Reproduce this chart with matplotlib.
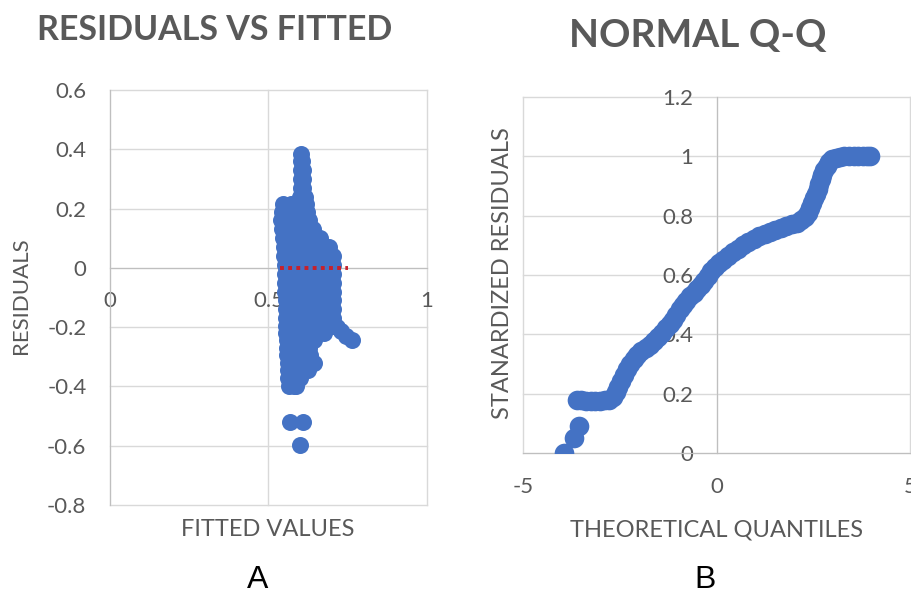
import matplotlib
matplotlib.use("Agg")
import matplotlib.pyplot as plt

plt.rcParams['font.family'] = ['Lato', 'DejaVu Sans']
plt.rcParams['axes.unicode_minus'] = False

# residuals vs fitted
fitted_values = [
    0.603,
    0.602, 0.607,
    0.601, 0.608,
    0.601, 0.608,
    0.601, 0.610,
    0.600, 0.614,
    0.545, 0.570, 0.595, 0.617,
    0.543, 0.568, 0.593, 0.620,
    0.540, 0.565, 0.590, 0.615, 0.627,
    0.542, 0.567, 0.592, 0.617, 0.640,
    0.545, 0.570, 0.595, 0.620, 0.645, 0.664,
    0.548, 0.573, 0.598, 0.623, 0.648, 0.673, 0.690,
    0.550, 0.575, 0.600, 0.625, 0.650, 0.675, 0.702,
    0.551, 0.576, 0.601, 0.626, 0.651, 0.676, 0.704,
    0.552, 0.577, 0.602, 0.627, 0.652, 0.677, 0.705,
    0.553, 0.578, 0.603, 0.628, 0.653, 0.678, 0.705,
    0.553, 0.578, 0.603, 0.628, 0.653, 0.678, 0.705,
    0.554, 0.579, 0.604, 0.629, 0.654, 0.679, 0.705,
    0.554, 0.579, 0.604, 0.629, 0.654, 0.679, 0.705,
    0.555, 0.580, 0.605, 0.630, 0.655, 0.680, 0.705,
    0.555, 0.580, 0.605, 0.630, 0.655, 0.680, 0.705, 0.715,
    0.556, 0.581, 0.606, 0.631, 0.656, 0.675, 0.730,
    0.557, 0.582, 0.607, 0.630, 0.645, 0.746,
    0.558, 0.583, 0.608, 0.628, 0.762,
    0.559, 0.584, 0.609, 0.632,
    0.560, 0.585, 0.610, 0.635, 0.643,
    0.561, 0.586, 0.608, 0.625,
    0.562, 0.585, 0.598,
    0.565, 0.580, 0.588,
    0.568, 0.608, 0.599,
]
residuals = [
    0.385,
    0.360, 0.360,
    0.330, 0.330,
    0.300, 0.300,
    0.270, 0.270,
    0.240, 0.240,
    0.215, 0.215, 0.215, 0.215,
    0.190, 0.190, 0.190, 0.190,
    0.160, 0.160, 0.160, 0.160, 0.160,
    0.130, 0.130, 0.130, 0.130, 0.130,
    0.100, 0.100, 0.100, 0.100, 0.100, 0.100,
    0.070, 0.070, 0.070, 0.070, 0.070, 0.070, 0.070,
    0.040, 0.040, 0.040, 0.040, 0.040, 0.040, 0.040,
    0.010, 0.010, 0.010, 0.010, 0.010, 0.010, 0.010,
    -0.020, -0.020, -0.020, -0.020, -0.020, -0.020, -0.020,
    -0.050, -0.050, -0.050, -0.050, -0.050, -0.050, -0.050,
    -0.080, -0.080, -0.080, -0.080, -0.080, -0.080, -0.080,
    -0.110, -0.110, -0.110, -0.110, -0.110, -0.110, -0.110,
    -0.140, -0.140, -0.140, -0.140, -0.140, -0.140, -0.140,
    -0.170, -0.170, -0.170, -0.170, -0.170, -0.170, -0.170,
    -0.195, -0.195, -0.195, -0.195, -0.195, -0.195, -0.195, -0.198,
    -0.220, -0.220, -0.220, -0.220, -0.220, -0.220, -0.213,
    -0.245, -0.245, -0.245, -0.245, -0.245, -0.229,
    -0.270, -0.270, -0.270, -0.270, -0.245,
    -0.295, -0.295, -0.295, -0.295,
    -0.320, -0.320, -0.320, -0.320, -0.322,
    -0.345, -0.345, -0.345, -0.345,
    -0.370, -0.370, -0.370,
    -0.398, -0.398, -0.398,
    -0.520, -0.520, -0.598,
]
zero_x = [0.537, 0.752]
zero_y = [0, 0]

# normal q-q
theo_q = [-3.96, -3.70, -3.55, -3.62, -3.50, -3.38, -3.26, -3.14, -3.02, -2.90,
          -2.78, -2.68, -2.60, -2.54, -2.47, -2.40, -2.32, -2.24, -2.15, -2.05,
          -1.95, -1.84, -1.73, -1.62, -1.51, -1.41, -1.31, -1.21, -1.12, -1.04,
          -0.96, -0.88, -0.79, -0.69, -0.59, -0.50, -0.41, -0.32, -0.23, -0.14,
          -0.05, 0.05, 0.16, 0.28, 0.41, 0.54, 0.68, 0.82, 0.96, 1.10,
          1.24, 1.38, 1.52, 1.66, 1.80, 1.94, 2.07, 2.18, 2.27, 2.35,
          2.41, 2.47, 2.52, 2.57, 2.61, 2.65, 2.69, 2.73, 2.78, 2.84,
          2.91, 2.99, 3.08, 3.18, 3.30, 3.42, 3.54, 3.66, 3.78, 3.88, 3.96]
std_resid = [0.0, 0.05, 0.092, 0.18, 0.178, 0.177, 0.177, 0.177, 0.177, 0.178,
             0.180, 0.190, 0.205, 0.222, 0.242, 0.262, 0.282, 0.300, 0.316, 0.330,
             0.343, 0.355, 0.366, 0.378, 0.392, 0.406, 0.420, 0.434, 0.450, 0.466,
             0.484, 0.500, 0.514, 0.528, 0.540, 0.552, 0.566, 0.581, 0.597, 0.613,
             0.627, 0.640, 0.652, 0.664, 0.676, 0.688, 0.700, 0.711, 0.721, 0.730,
             0.738, 0.745, 0.752, 0.758, 0.764, 0.770, 0.776, 0.784, 0.795, 0.810,
             0.826, 0.842, 0.858, 0.874, 0.890, 0.906, 0.922, 0.938, 0.954, 0.968,
             0.980, 0.990, 0.995, 0.998, 1.0, 1.0, 1.0, 1.0, 1.0, 1.0, 1.0]

res_yticks = [0.6, 0.4, 0.2, 0, -0.2, -0.4, -0.6, -0.8]
res_ylabels = ['0.6', '0.4', '0.2', '0', '-0.2', '-0.4', '-0.6', '-0.8']
res_xticks = [0, 0.5, 1]
res_xlabels = ['0', '0.5', '1']
qq_yticks = [0, 0.2, 0.4, 0.6, 0.8, 1, 1.2]
qq_ylabels = ['0', '0.2', '0.4', '0.6', '0.8', '1', '1.2']
qq_xticks = [-5, 0, 5]
qq_xlabels = ['-5', '0', '5']

blue = '#4472C4'
grey = '#595959'
gridc = '#d9d9d9'

fig = plt.figure(figsize=(9.12, 5.96), dpi=100)
ax1 = fig.add_axes([110/912, 1-505/596, 317/912, 415/596])
ax2 = fig.add_axes([523.3/912, 1-453.3/596, 386.8/912, 356.6/596])

# panel A
ax1.scatter(fitted_values, residuals, s=150, color=blue, linewidths=0, zorder=3)
ax1.plot(zero_x, zero_y, color='#C8202A', lw=2.8, linestyle=(0, (1, 1.1)), zorder=4)
ax1.set_xlim(0, 1)
ax1.set_ylim(-0.8, 0.6)
ax1.set_xticks(res_xticks, res_xlabels)
ax1.set_yticks(res_yticks, res_ylabels)
ax1.spines['bottom'].set_position(('data', 0))

# panel B
ax2.scatter(theo_q, std_resid, s=200, color=blue, linewidths=0, zorder=3)
ax2.set_xlim(-5, 5)
ax2.set_ylim(0, 1.2)
ax2.set_xticks(qq_xticks, qq_xlabels)
ax2.set_yticks(qq_yticks, qq_ylabels)
ax2.spines['left'].set_position(('data', 0))

for ax in (ax1, ax2):
    ax.set_axisbelow(True)
    ax.grid(True, color=gridc, lw=1)
    for ln in ax.get_xgridlines() + ax.get_ygridlines():
        ln.set_clip_on(False)
    ax.spines['top'].set_visible(False)
    ax.spines['right'].set_visible(False)
    ax.spines['left'].set_color('#bfbfbf')
    ax.spines['bottom'].set_color('#bfbfbf')
    ax.tick_params(length=0, labelsize=16, labelcolor=grey)
    ax.tick_params(axis='x', pad=17)
    ax.tick_params(axis='y', pad=17)

# titles and labels
fig.text(215/912, 1-30/596, 'RESIDUALS VS FITTED', ha='center', va='center',
         fontsize=24.5, fontweight='bold', color=grey)
fig.text(698/912, 1-36/596, 'NORMAL Q-Q', ha='center', va='center',
         fontsize=28, fontweight='bold', color=grey)
fig.text(268/912, 1-530/596, 'FITTED VALUES', ha='center', va='center',
         fontsize=17, color=grey)
fig.text(717/912, 1-530/596, 'THEORETICAL QUANTILES', ha='center', va='center',
         fontsize=17, color=grey)
fig.text(21/912, 1-296/596, 'RESIDUALS', ha='center', va='center',
         rotation=90, fontsize=16, color=grey)
fig.text(503/912, 1-273/596, 'STANARDIZED RESIDUALS', ha='center', va='center',
         rotation=90, fontsize=17, color=grey)
fig.text(258/912, 1-580/596, 'A', ha='center', va='center',
         fontsize=23, family='Liberation Sans', color='black')
fig.text(705/912, 1-580/596, 'B', ha='center', va='center',
         fontsize=23, family='Liberation Sans', color='black')

fig.savefig('out.png', dpi=100)
